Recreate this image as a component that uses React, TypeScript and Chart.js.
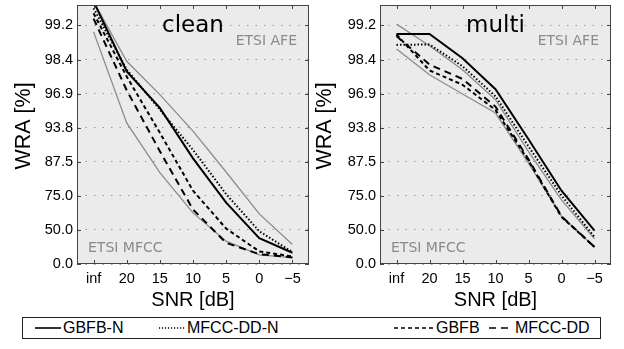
import React, { useEffect, useRef } from 'react';
import { Chart, registerables } from 'chart.js';

Chart.register(...registerables);

// ---------- data (WRA in %) ----------
const categories = ['inf', '20', '15', '10', '5', '0', '\u22125'];
const yTickLabels = ['0.0', '50.0', '75.0', '87.5', '93.8', '96.9', '98.4', '99.2'];

const cleanGBFBN = [99.52, 98.01, 95.82, 88.34, 71.28, 40.95, 20.46];
const cleanMFCCDDN = [99.45, 98.08, 95.67, 90.19, 75.85, 48.62, 21.54];
const cleanGBFB = [99.39, 97.79, 93.07, 77.47, 51.37, 22.62, 14.14];
const cleanMFCCDD = [99.32, 97.08, 89.92, 67.01, 35.0, 18.21, 12.34];
const cleanETSIAFE = [99.52, 98.38, 96.81, 93.3, 84.61, 63.91, 32.64];
const cleanETSIMFCC = [99.11, 94.33, 84.4, 64.64, 37.15, 17.07, 12.34];

const multiGBFBN = [99.07, 99.07, 98.48, 97.14, 92.09, 77.47, 49.3];
const multiMFCCDDN = [98.84, 98.85, 98.21, 96.7, 90.85, 75.17, 42.17];
const multiGBFB = [99.06, 98.05, 97.39, 95.64, 87.76, 61.58, 29.29];
const multiMFCCDD = [99.03, 98.27, 97.68, 95.93, 88.09, 62.11, 29.29];
const multiETSIAFE = [99.24, 98.82, 98.08, 96.46, 89.85, 72.83, 40.13];
const multiETSIMFCC = [98.74, 97.87, 96.85, 95.36, 87.15, 62.11, 29.29];

const seriesNames = ['GBFB-N', 'MFCC-DD-N', 'GBFB', 'MFCC-DD', 'ETSI AFE', 'ETSI MFCC'];

// axis transform: WRA -> -log2(error rate)
const toAxis = (v: number) => -Math.log2(1 - v / 100);

const FONT = "'Liberation Sans', Arial, sans-serif";
const FONT2 = "'DejaVu Sans', sans-serif";

const styles = [
  { color: '#000', width: 2, dash: [] as number[] },
  { color: '#000', width: 2, dash: [1.5, 2] },
  { color: '#000', width: 2, dash: [4, 3] },
  { color: '#000', width: 2, dash: [7, 5] },
  { color: '#8c8c8c', width: 1.3, dash: [] as number[] },
  { color: '#8c8c8c', width: 1.3, dash: [] as number[] },
];

function makeDeco(title: string, yTitleX: number) {
  return {
    id: 'deco',
    beforeDraw(chart: any) {
      const { ctx, chartArea: a } = chart;
      ctx.save();
      ctx.fillStyle = '#ebebeb';
      ctx.fillRect(a.left, a.top, a.right - a.left, a.bottom - a.top);
      ctx.restore();
    },
    afterDraw(chart: any) {
      const { ctx, chartArea: a, scales } = chart;
      ctx.save();
      ctx.strokeStyle = '#444';
      ctx.lineWidth = 1;
      ctx.setLineDash([]);
      ctx.beginPath();
      for (let i = 0; i < categories.length; i++) {
        const x = Math.round(scales.x.getPixelForValue(i)) + 0.5;
        ctx.moveTo(x, a.bottom);
        ctx.lineTo(x, a.bottom - 4);
        ctx.moveTo(x, a.top);
        ctx.lineTo(x, a.top + 4);
      }
      for (let i = 0; i < yTickLabels.length; i++) {
        const y = Math.round(scales.y.getPixelForValue(i)) + 0.5;
        ctx.moveTo(a.left, y);
        ctx.lineTo(a.left + 4, y);
        ctx.moveTo(a.right, y);
        ctx.lineTo(a.right - 4, y);
      }
      ctx.stroke();
      ctx.strokeRect(Math.round(a.left) + 0.5, Math.round(a.top) + 0.5, Math.round(a.right - a.left) - 1, Math.round(a.bottom - a.top) - 1);

      // y-axis title
      ctx.save();
      ctx.translate(yTitleX, a.top + (a.bottom - a.top) * 0.467);
      ctx.rotate(-Math.PI / 2);
      ctx.fillStyle = '#000';
      ctx.font = `21.5px ${FONT}`;
      ctx.textAlign = 'center';
      ctx.textBaseline = 'middle';
      ctx.fillText('WRA [%]', 0, 0);
      ctx.restore();

      ctx.fillStyle = '#000';
      ctx.font = `23px ${FONT2}`;
      ctx.textAlign = 'center';
      ctx.textBaseline = 'alphabetic';
      ctx.fillText(title, (a.left + a.right) / 2, a.top + 27);

      ctx.fillStyle = '#8a8a8a';
      ctx.font = `14px ${FONT2}`;
      ctx.textAlign = 'right';
      ctx.fillText('ETSI AFE', a.right - 12, a.top + 40);
      ctx.textAlign = 'left';
      ctx.fillText('ETSI MFCC', a.left + 11, a.bottom - 12);
      ctx.restore();
    },
  };
}

type PanelProps = {
  title: string;
  data: number[][];
  left: number;
  width: number;
  yAxisWidth: number;
  rightPad: number;
  yTitleX: number;
};

function Panel({ title, data, left, width, yAxisWidth, rightPad, yTitleX }: PanelProps) {
  const ref = useRef<HTMLCanvasElement | null>(null);
  const height = 312;
  useEffect(() => {
    if (!ref.current) return;
    const chart = new Chart(ref.current, {
      type: 'line',
      data: {
        labels: categories,
        datasets: data.map((vals, i) => ({
          label: seriesNames[i],
          data: vals.map(toAxis),
          borderColor: styles[i].color,
          borderWidth: styles[i].width,
          borderDash: styles[i].dash,
          pointRadius: 0,
          tension: 0,
          fill: false,
          clip: 0,
        })),
      },
      options: {
        animation: false,
        responsive: false,
        maintainAspectRatio: false,
        layout: { padding: { top: 5, right: rightPad, left: 0, bottom: 0 } },
        plugins: { legend: { display: false }, tooltip: { enabled: false } },
        scales: {
          x: {
            type: 'category',
            offset: true,
            grid: { display: false, drawTicks: false },
            border: { display: false },
            ticks: {
              color: '#000',
              font: { family: FONT, size: 14.5 },
              padding: 6,
              maxRotation: 0,
              autoSkip: false,
            },
            title: {
              display: true,
              text: 'SNR [dB]',
              color: '#000',
              font: { family: FONT, size: 20 },
              padding: { top: 0, bottom: 0 },
            },
            afterFit: (s: any) => {
              s.height = 48;
              s.paddingLeft = 0;
              s.paddingRight = 0;
            },
          },
          y: {
            type: 'linear',
            min: 0,
            max: 7.6,
            grid: { color: '#9a9a9a', lineWidth: 1, drawTicks: false },
            border: { display: false, dash: [1.5, 7] },
            ticks: {
              color: '#000',
              font: { family: FONT, size: 14.5 },
              padding: 4,
              callback: (v: any) => yTickLabels[Math.round(Number(v))] ?? '',
            },
            afterBuildTicks: (s: any) => {
              s.ticks = yTickLabels.map((_, i) => ({ value: i }));
            },
            title: { display: false },
            afterFit: (s: any) => {
              s.width = yAxisWidth;
              s.paddingTop = 0;
              s.paddingBottom = 0;
            },
          },
        },
      } as any,
      plugins: [makeDeco(title, yTitleX)],
    });
    return () => chart.destroy();
  }, []);
  return (
    <canvas
      ref={ref}
      width={width}
      height={height}
      style={{ position: 'absolute', left, top: 0, width, height }}
    />
  );
}

function LegendSample({ dash, width }: { dash: string; width: number }) {
  return (
    <svg width={width} height={10} style={{ display: 'block' }}>
      <line x1={0} y1={5} x2={width} y2={5} stroke="#000" strokeWidth={1.6} strokeDasharray={dash} />
    </svg>
  );
}

const legendItems = [
  { label: 'GBFB-N', dash: '', x: 12, w: 26 },
  { label: 'MFCC-DD-N', dash: '1.2 1.8', x: 136, w: 26 },
  { label: 'GBFB', dash: '4 3', x: 371, w: 40 },
  { label: 'MFCC-DD', dash: '7 5', x: 466, w: 24 },
];

export default function App() {
  return (
    <div style={{ position: 'absolute', left: 0, top: 0, width: 624, height: 349, background: '#fff', overflow: 'hidden' }}>
      <Panel
        title="clean"
        data={[cleanGBFBN, cleanMFCCDDN, cleanGBFB, cleanMFCCDD, cleanETSIAFE, cleanETSIMFCC]}
        left={0}
        width={312}
        yAxisWidth={77}
        rightPad={3}
        yTitleX={24}
      />
      <Panel
        title="multi"
        data={[multiGBFBN, multiMFCCDDN, multiGBFB, multiMFCCDD, multiETSIAFE, multiETSIMFCC]}
        left={312}
        width={312}
        yAxisWidth={68}
        rightPad={13}
        yTitleX={13.5}
      />
      <div
        style={{
          position: 'absolute',
          left: 22,
          top: 317,
          width: 579,
          height: 22,
          boxSizing: 'border-box',
          border: '1px solid #222',
          fontFamily: FONT,
          fontSize: 16,
        }}
      >
        {legendItems.map((it) => (
          <div
            key={it.label}
            style={{ position: 'absolute', left: it.x, top: 0, height: 20, display: 'flex', alignItems: 'center', whiteSpace: 'nowrap' }}
          >
            <LegendSample dash={it.dash} width={it.w} />
            <span style={{ marginLeft: 2, lineHeight: '20px' }}>{it.label}</span>
          </div>
        ))}
      </div>
    </div>
  );
}
